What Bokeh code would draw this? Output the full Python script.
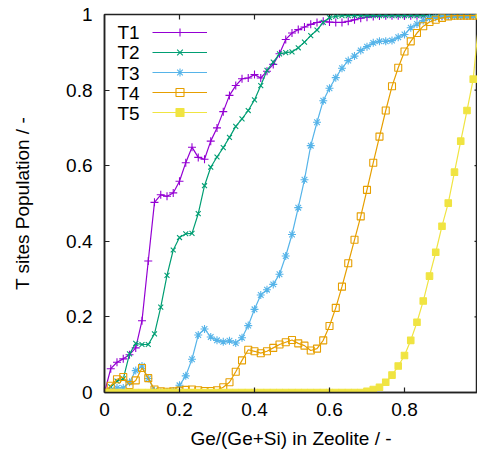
from bokeh.plotting import figure
from bokeh.models import Range1d, FixedTicker, Legend, LegendItem, Label
from bokeh.embed import file_html
from bokeh.resources import INLINE

ge_fraction = [0.0, 0.0167, 0.0333, 0.05, 0.0667, 0.0833, 0.1, 0.1167, 0.1333, 0.15,
               0.1667, 0.1833, 0.2, 0.2167, 0.2333, 0.25, 0.2667, 0.2833, 0.3, 0.3167,
               0.3333, 0.35, 0.3667, 0.3833, 0.4, 0.4167, 0.4333, 0.45, 0.4667, 0.4833,
               0.5, 0.5167, 0.5333, 0.55, 0.5667, 0.5833, 0.6, 0.6167, 0.6333, 0.65,
               0.6667, 0.6833, 0.7, 0.7167, 0.7333, 0.75, 0.7667, 0.7833, 0.8, 0.8167,
               0.8333, 0.85, 0.8667, 0.8833, 0.9, 0.9167, 0.9333, 0.95, 0.9667, 0.9833, 1.0]

t1 = [0.0, 0.063, 0.08, 0.089, 0.1, 0.118, 0.19, 0.348, 0.503, 0.523,
      0.519, 0.528, 0.559, 0.608, 0.649, 0.622, 0.617, 0.665, 0.700, 0.743,
      0.786, 0.812, 0.830, 0.832, 0.841, 0.832, 0.850, 0.868, 0.896, 0.934,
      0.951, 0.960, 0.967, 0.974, 0.979, 0.982, 0.980, 0.979, 0.979, 0.982,
      0.986, 0.990, 0.993, 0.995, 0.996, 0.997, 0.997, 0.997, 0.997, 0.997,
      0.997, 0.997, 0.997, 0.997, 0.997, 0.997, 0.997, 0.997, 0.997, 0.997, 1.0]

t2 = [0.0, 0.015, 0.03, 0.036, 0.102, 0.13, 0.127, 0.127, 0.155, 0.226,
      0.31, 0.377, 0.41, 0.42, 0.421, 0.473, 0.547, 0.596, 0.623, 0.648,
      0.675, 0.704, 0.724, 0.746, 0.774, 0.812, 0.852, 0.874, 0.896, 0.899,
      0.901, 0.912, 0.927, 0.944, 0.959, 0.979, 0.992, 0.995, 0.997, 0.997,
      0.997, 0.997, 0.997, 0.997, 0.997, 0.997, 0.997, 0.997, 0.997, 0.997,
      0.997, 0.997, 0.997, 0.997, 0.997, 0.997, 0.997, 0.997, 0.997, 0.997, 1.0]

t3 = [0.0, 0.005, 0.012, 0.012, 0.027, 0.058, 0.07, 0.037, 0.005, 0.0,
      0.001, 0.004, 0.019, 0.044, 0.088, 0.152, 0.168, 0.147, 0.138, 0.134,
      0.137, 0.131, 0.145, 0.177, 0.22, 0.258, 0.272, 0.286, 0.313, 0.361,
      0.418, 0.489, 0.563, 0.653, 0.715, 0.772, 0.805, 0.833, 0.858, 0.878,
      0.89, 0.905, 0.915, 0.925, 0.929, 0.929, 0.931, 0.94, 0.947, 0.965,
      0.975, 0.984, 0.99, 0.993, 0.995, 0.996, 0.996, 0.996, 0.996, 0.996, 1.0]

t4 = [0.0, 0.018, 0.035, 0.041, 0.02, 0.032, 0.065, 0.038, 0.008, 0.003,
      0.002, 0.003, 0.005, 0.007, 0.008, 0.006, 0.004, 0.004, 0.006, 0.014,
      0.027, 0.055, 0.085, 0.113, 0.109, 0.104, 0.109, 0.118, 0.127, 0.133,
      0.139, 0.13, 0.124, 0.111, 0.116, 0.138, 0.176, 0.224, 0.28, 0.342,
      0.404, 0.466, 0.536, 0.608, 0.677, 0.746, 0.81, 0.859, 0.902, 0.929,
      0.951, 0.969, 0.98, 0.986, 0.991, 0.995, 0.997, 0.997, 0.997, 0.997, 1.0]

t5 = [0.0, 0.0, 0.0, 0.0, 0.0, 0.0, 0.0, 0.0, 0.0, 0.0,
      0.0, 0.0, 0.0, 0.0, 0.0, 0.0, 0.0, 0.0, 0.0, 0.0,
      0.0, 0.0, 0.0, 0.0, 0.0, 0.0, 0.0, 0.0, 0.0, 0.0,
      0.0, 0.0, 0.0, 0.0, 0.0, 0.0, 0.0, 0.0, 0.0, 0.0,
      0.0, 0.0, 0.003, 0.008, 0.014, 0.027, 0.046, 0.07, 0.098, 0.138,
      0.186, 0.242, 0.308, 0.371, 0.44, 0.501, 0.583, 0.665, 0.746, 0.829, 1.0]

series_names = ["T1", "T2", "T3", "T4", "T5"]
series_values = [t1, t2, t3, t4, t5]
series_colors = ["#9400d3", "#009e73", "#56b4e9", "#e69f00", "#f0e442"]

x_ticks = [0, 0.2, 0.4, 0.6, 0.8]
x_tick_labels = ["0", "0.2", "0.4", "0.6", "0.8"]
y_ticks = [0, 0.2, 0.4, 0.6, 0.8, 1.0]
y_tick_labels = ["0", "0.2", "0.4", "0.6", "0.8", "1"]

FONT = "Liberation Sans"
FS = "19px"
AX_COLOR = "#222222"

X_START, X_END = 0.0, 0.9947
FRAME_W, FRAME_H = 373, 378   # frame size in px (477-104, 453-14-61)
TICK_PX = 5

p = figure(width=477, height=453, output_backend="svg", toolbar_location=None,
           x_range=Range1d(X_START, X_END), y_range=Range1d(0, 1),
           min_border_left=104, min_border_right=0, min_border_top=14, min_border_bottom=61,
           x_axis_label="Ge/(Ge+Si) in Zeolite / -", y_axis_label="T sites Population / -")
p.grid.visible = False
p.outline_line_color = AX_COLOR
p.outline_line_width = 1.5
p.background_fill_color = "white"
p.border_fill_color = "white"

for ax, ticks, labels in ((p.xaxis[0], x_ticks, x_tick_labels), (p.yaxis[0], y_ticks, y_tick_labels)):
    ax.ticker = FixedTicker(ticks=ticks)
    ax.major_label_overrides = {t: l for t, l in zip(ticks, labels)}
    ax.major_tick_in = TICK_PX
    ax.major_tick_out = 0
    ax.minor_tick_line_color = None
    ax.axis_line_color = AX_COLOR
    ax.axis_line_width = 1.5
    ax.major_tick_line_color = AX_COLOR
    ax.major_tick_line_width = 1.2
    ax.major_label_text_font = FONT
    ax.major_label_text_font_size = FS
    ax.major_label_text_color = "black"
    ax.axis_label_text_font = FONT
    ax.axis_label_text_font_size = FS
    ax.axis_label_text_font_style = "normal"
    ax.axis_label_text_color = "black"

p.xaxis[0].major_label_standoff = 10
p.xaxis[0].axis_label_standoff = 9
p.yaxis[0].major_label_standoff = 12
p.yaxis[0].axis_label_standoff = 30

# mirrored inward ticks on the top and right borders (as in the gnuplot frame)
x_per_px = (X_END - X_START) / (FRAME_W + 2)
y_per_px = 1.0 / FRAME_H
top_ticks = x_ticks[1:]
p.segment(x0=top_ticks, x1=top_ticks, y0=[1.0] * len(top_ticks),
          y1=[1.0 - TICK_PX * y_per_px] * len(top_ticks), line_color=AX_COLOR, line_width=1.2)
right_ticks = y_ticks[1:-1]
right_edge = 1.0
p.segment(x0=[right_edge - TICK_PX * x_per_px] * len(right_ticks), x1=[right_edge] * len(right_ticks),
          y0=right_ticks, y1=right_ticks, line_color=AX_COLOR, line_width=1.2)

marker_specs = [
    dict(marker="cross", size=8, fill_color=None),
    dict(marker="x", size=7, fill_color=None),
    dict(marker="asterisk", size=8, fill_color=None),
    dict(marker="square", size=7, fill_color=None),
    dict(marker="square", size=6.5, fill_color="#f0e442"),
]

items = []
for name, vals, col, spec in zip(series_names, series_values, series_colors, marker_specs):
    lr = p.line(ge_fraction, vals, line_color=col, line_width=1.2)
    sr = p.scatter(ge_fraction, vals, line_color=col, line_width=1.1, **spec)
    items.append(LegendItem(label="", renderers=[lr, sr]))

# legend keys (glyph samples) drawn by Bokeh's legend; names placed to their left
ROW_H = 20.25
LEG_TOP = 8.0          # px below frame top of the first row's top edge
KEY_X = 48             # px from frame left
legend = Legend(items=items, location=(KEY_X, FRAME_H - LEG_TOP - 5 * 20), padding=0, margin=0,
                spacing=0, glyph_width=55, glyph_height=20, label_height=20, label_width=0,
                label_standoff=0, label_text_font=FONT, label_text_font_size="10px",
                border_line_color=None, background_fill_alpha=0)
p.add_layout(legend)

for k, name in enumerate(series_names):
    p.add_layout(Label(x=13, y=FRAME_H - LEG_TOP - 10 - k * ROW_H, x_units="screen", y_units="screen",
                       text=name, text_font=FONT, text_font_size=FS, text_color="black",
                       text_baseline="middle", text_align="left"))

open("out.html", "w").write(file_html(p, INLINE))
